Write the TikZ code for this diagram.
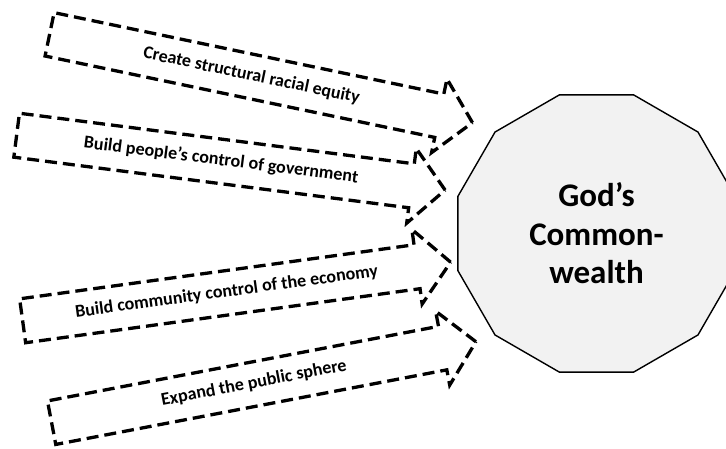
\documentclass[tikz,border=0pt]{standalone}
\usepackage{fontspec}
\setmainfont{Carlito}
\usetikzlibrary{shapes.arrows,shapes.geometric}
\begin{document}
\begin{tikzpicture}[x=1pt,y=1pt,
    strategy/.style={single arrow, draw, line width=3.3pt, dash pattern=on 12pt off 6pt,
      font=\fontsize{18}{21}\selectfont\bfseries, text height=12pt, text depth=4pt,
      inner xsep=6pt, inner ysep=12.5pt, minimum height=432pt,
      single arrow head extend=15.5pt, single arrow tip angle=96, anchor=tail},
    commonwealth/.style={regular polygon, regular polygon sides=12, draw, line width=1.4pt,
      fill=black!5, inner sep=0pt, minimum size=287pt, align=center,
      font=\fontsize{33}{38.5}\selectfont\bfseries}]
   \useasboundingbox (0,0) rectangle (726,448);
   \node[commonwealth] (G) at (596.5,214.5) {God’s\\Common-\\wealth};
   \node[strategy, rotate=-11.8] (equity) at (48,414) {Create structural racial equity};
   \node[strategy, rotate=-7.3] (government) at (15,313) {Build people’s control of government};
   \node[strategy, rotate=7.8] (economy) at (21,127) {Build community control of the economy};
   \node[strategy, rotate=10.8] (sphere) at (50,25) {Expand the public sphere};
\end{tikzpicture}
\end{document}
